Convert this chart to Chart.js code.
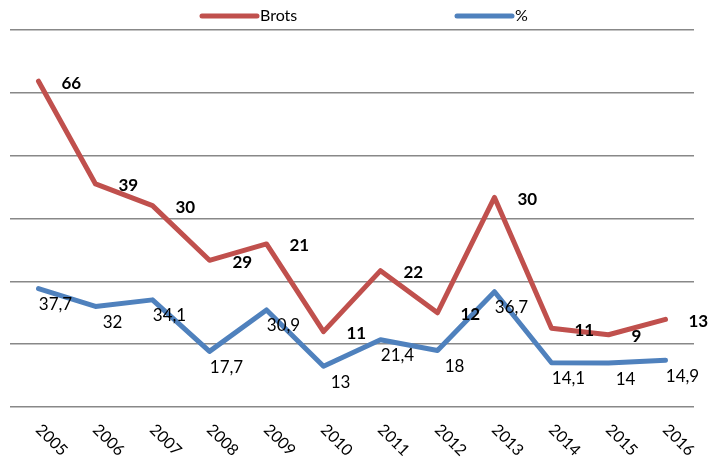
<!DOCTYPE html>
<html>
<head>
<meta charset="utf-8">
<script src="https://cdn.jsdelivr.net/npm/chart.js@4"></script>
<style>
  body { margin: 0; background: #fff; }
  #wrap { width: 715px; height: 460px; }
</style>
</head>
<body>
<div id="wrap"><canvas id="myChart"></canvas></div>
<script>
// dades llegides del gràfic
const years = ['2005', '2006', '2007', '2008', '2009', '2010', '2011', '2012', '2013', '2014', '2015', '2016'];
const brots = [66, 39, 30, 29, 21, 11, 22, 12, 30, 11, 9, 13];
const pct = [37.7, 32, 34.1, 17.7, 30.9, 13, 21.4, 18, 36.7, 14.1, 14, 14.9];
const yMax = 120;
const yStep = 20;

const red = '#C0504D';
const blue = '#4F81BD';
const fontFam = 'Lato, "Open Sans", sans-serif';

function fmt(v) {
  return String(v).replace('.', ',');
}

// llegenda a mida (estil excel, elements molt separats)
const legendPlugin = {
  id: 'excelLegend',
  afterDraw(chart) {
    const ctx = chart.ctx;
    const ds = chart.data.datasets.slice().reverse();
    const starts = [202, 457];
    ctx.save();
    ds.forEach((d, i) => {
      const x = starts[i];
      ctx.strokeStyle = d.borderColor;
      ctx.lineWidth = 5;
      ctx.lineCap = 'round';
      ctx.beginPath();
      ctx.moveTo(x, 16);
      ctx.lineTo(x + 55, 16);
      ctx.stroke();
      ctx.fillStyle = '#000';
      ctx.font = '16px ' + fontFam;
      ctx.textAlign = 'left';
      ctx.textBaseline = 'middle';
      ctx.fillText(d.label, x + 58, 16);
    });
    ctx.restore();
  }
};

// etiquetes de l'eix x girades cap avall
const xLabelPlugin = {
  id: 'xLabels',
  afterDraw(chart) {
    const ctx = chart.ctx;
    const xs = chart.scales.x;
    ctx.save();
    ctx.fillStyle = '#000';
    ctx.font = '16px ' + fontFam;
    ctx.textAlign = 'left';
    ctx.textBaseline = 'middle';
    chart.data.labels.forEach((lab, i) => {
      const px = xs.getPixelForTick(i);
      ctx.save();
      ctx.translate(px, 427);
      ctx.rotate(Math.PI / 4);
      ctx.fillText(lab, 0, 0);
      ctx.restore();
    });
    ctx.restore();
  }
};

// valors sobre les línies
const valueLabels = {
  id: 'valueLabels',
  afterDatasetsDraw(chart) {
    const ctx = chart.ctx;
    ctx.save();
    ctx.fillStyle = '#000';
    ctx.textBaseline = 'middle';
    chart.data.datasets.forEach((d, di) => {
      const meta = chart.getDatasetMeta(di);
      meta.data.forEach((pt, i) => {
        const txt = fmt(d.data[i]);
        if (d.label === 'Brots') {
          ctx.font = 'bold 17px ' + fontFam;
          ctx.textAlign = 'left';
          ctx.fillText(txt, pt.x + 23, pt.y + 2);
        } else {
          ctx.font = '17px ' + fontFam;
          ctx.textAlign = 'center';
          ctx.fillText(txt, pt.x + 17, pt.y + 16);
        }
      });
    });
    ctx.restore();
  }
};

const data = {
  labels: years,
  datasets: [
    {
      label: '%',
      data: pct,
      borderColor: blue,
      backgroundColor: blue,
      borderWidth: 5,
      pointRadius: 0,
      tension: 0,
      fill: false,
      borderCapStyle: 'round',
      borderJoinStyle: 'round'
    },
    {
      label: 'Brots',
      data: brots,
      borderColor: red,
      backgroundColor: red,
      borderWidth: 5,
      pointRadius: 0,
      tension: 0,
      fill: false,
      borderCapStyle: 'round',
      borderJoinStyle: 'round'
    }
  ]
};

const config = {
  type: 'line',
  data: data,
  options: {
    responsive: true,
    maintainAspectRatio: false,
    animation: false,
    layout: { padding: { left: 10, right: 21, top: 30, bottom: 53 } },
    plugins: {
      legend: { display: false },
      tooltip: { enabled: false }
    },
    scales: {
      x: {
        offset: true,
        grid: { display: false, drawTicks: false },
        border: { display: false },
        ticks: { display: false }
      },
      y: {
        stacked: true,
        min: 0,
        max: yMax,
        ticks: { display: false, stepSize: yStep },
        grid: { color: '#888888', lineWidth: 1.5, drawTicks: false },
        border: { display: false }
      }
    }
  },
  plugins: [valueLabels, legendPlugin, xLabelPlugin]
};

const myChart = new Chart(document.getElementById('myChart'), config);
</script>
</body>
</html>
